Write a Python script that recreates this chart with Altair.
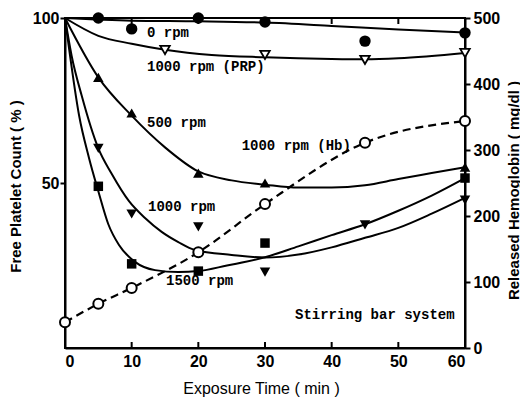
import altair as alt
import pandas as pd

# ---- measured markers (x: exposure time in min) ----
zero_t = [5, 10, 20, 30, 45, 60]
zero_v = [100, 96.7, 100, 98.8, 93, 95.5]
prp_t = [15, 30, 45, 60]
prp_v = [90.3, 88.8, 87.3, 89.4]
r500_t = [5, 10, 20, 30, 60]
r500_v = [82.0, 71.2, 53, 50, 54.8]
r1000_t = [5, 10, 20, 30, 45, 60]
r1000_v = [60.5, 40.6, 36.7, 23, 37.3, 44.8]
r1500_t = [5, 10, 20, 30, 60]
r1500_v = [49, 25.5, 23.3, 31.8, 51.5]
hb_t = [0, 5, 10, 20, 30, 45, 60]
hb_v = [39, 67, 91, 145, 218, 311, 344]

# ---- fitted curves ----
zero_ct = [0, 10, 20, 30, 40, 50, 60]
zero_cv = [100, 99.2, 99.0, 98.6, 97.6, 96.5, 95.6]
prp_ct = [0, 5, 10, 15, 22, 30, 40, 45, 50, 60]
prp_cv = [100, 94.6, 92.2, 90.4, 88.8, 88.1, 87.6, 87.5, 87.8, 89.4]
r500_ct = [0, 5, 10, 15, 20, 25, 30, 35, 40, 45, 50, 55, 60]
r500_cv = [100, 82.0, 70.4, 60.8, 53.5, 50.8, 49.5, 48.6, 48.6, 49.3, 51.2, 53.0, 54.8]
r1000_ct = [0, 1, 2.5, 5, 7, 9.6, 12, 14.5, 17, 19.5, 25, 30, 35, 40, 45, 50, 55, 60]
r1000_cv = [100, 88.5, 76.5, 60.5, 52.8, 44.5, 39.4, 35.2, 32.1, 29.7, 28.2, 27.4, 28.3, 30.5, 33.4, 36.4, 40.7, 45.5]
r1500_ct = [0, 0.6, 2.1, 3.6, 5, 6.5, 8.1, 10.5, 13.5, 17, 20, 24.3, 30, 35, 40, 45, 50, 55, 60]
r1500_cv = [100, 90.9, 70.6, 57.6, 47.5, 37.5, 31.2, 26.1, 23.6, 23, 23.3, 25.0, 27.5, 30.8, 34.2, 37.5, 41.6, 46.2, 51.5]

# ---- annotations ----
ann_text = ["0 rpm", "1000 rpm (PRP)", "500 rpm", "1000 rpm (Hb)", "1000 rpm", "1500 rpm", "Stirring bar system"]
ann_t = [12.3, 12.3, 12.3, 26.5, 12.45, 15.15, 34.5]
ann_v = [95.5, 85.2, 68.2, 61.2, 42.7, 20.3, 10]

frame_ticks = [10, 20, 30, 40, 50]
x_labels = [0, 10, 20, 30, 40, 50, 60]
left_labels = [50, 100]
right_labels = [0, 100, 200, 300, 400, 500]

W, H = 400, 330
LABEL_FONT = "Liberation Sans, Arial, sans-serif"
MONO = "Liberation Mono, DejaVu Sans Mono, monospace"


def df(t, v):
    return pd.DataFrame({"t": t, "v": v})


X = alt.X(
    "t:Q",
    scale=alt.Scale(domain=[0, 60], nice=False),
    axis=alt.Axis(
        values=x_labels, ticks=False, grid=False, domainColor="black", domainWidth=2,
        labelFont=LABEL_FONT, labelFontSize=16, labelFontWeight="bold", labelPadding=5,
        labelColor="black", title="Exposure Time ( min )", titleFont=LABEL_FONT,
        titleFontSize=16, titleFontWeight="normal", titleColor="black",
        titleX=196, titleY=40, titleBaseline="middle", titleAlign="center",
    ),
)
Y = alt.Y(
    "v:Q",
    scale=alt.Scale(domain=[0, 100], nice=False),
    axis=alt.Axis(
        values=left_labels, tickSize=5, tickWidth=2, tickColor="black", grid=False,
        domainColor="black", domainWidth=2, labelFont=LABEL_FONT, labelFontSize=16,
        labelFontWeight="bold", labelPadding=1, labelColor="black",
        title="Free Platelet Count ( % )", titleFont=LABEL_FONT, titleFontSize=15,
        titleFontWeight="bold", titleColor="black", titleAngle=270, titleX=-50,
        titleY=168, titleBaseline="middle", titleAlign="center",
    ),
)


def curve(t, v):
    return alt.Chart(df(t, v)).mark_line(
        color="black", strokeWidth=2, interpolate="monotone"
    ).encode(x=X, y=Y)


def pts(t, v, shape, filled, size):
    return alt.Chart(df(t, v)).mark_point(
        shape=shape, filled=filled, size=size, color="black",
        fill="black" if filled else "white", strokeWidth=1.8, opacity=1,
    ).encode(x=X, y=Y)


ann = alt.Chart(pd.DataFrame({"t": ann_t, "v": ann_v, "label": ann_text})).mark_text(
    font=MONO, fontSize=14, fontWeight="bold", align="left", baseline="middle", color="black"
).encode(x=X, y=Y, text="label:N")

ticks_df = pd.DataFrame({"t": frame_ticks})
bottom_ticks = alt.Chart(ticks_df).mark_rule(color="black", strokeWidth=2).encode(
    x=X, y=alt.value(H), y2=alt.value(H - 6)
)
top_ticks = alt.Chart(ticks_df).mark_rule(color="black", strokeWidth=2).encode(
    x=X, y=alt.value(0), y2=alt.value(6)
)

left = alt.layer(
    curve(zero_ct, zero_cv),
    curve(prp_ct, prp_cv),
    curve(r500_ct, r500_cv),
    curve(r1000_ct, r1000_cv),
    curve(r1500_ct, r1500_cv),
    pts(zero_t, zero_v, "circle", True, 130),
    pts(prp_t, prp_v, "triangle-down", False, 90),
    pts(r500_t, r500_v, "triangle-up", True, 110),
    pts(r1000_t, r1000_v, "triangle-down", True, 110),
    pts(r1500_t, r1500_v, "square", True, 90),
    ann,
    bottom_ticks,
    top_ticks,
)

YR = alt.Y(
    "v:Q",
    scale=alt.Scale(domain=[0, 500], nice=False),
    axis=alt.Axis(
        orient="right", values=right_labels, tickSize=5, tickWidth=2, tickColor="black",
        grid=False, domainColor="black", domainWidth=2, labelFont=LABEL_FONT,
        labelFontSize=16, labelFontWeight="bold", labelPadding=3, labelColor="black",
        title="Released Hemoglobin ( mg/dl )", titleFont=LABEL_FONT, titleFontSize=15,
        titleFontWeight="bold", titleColor="black", titleAngle=270, titleX=48,
        titleY=172, titleBaseline="middle", titleAlign="center",
    ),
)
hb_df = df(hb_t, hb_v)
hb_line = alt.Chart(hb_df).mark_line(
    color="black", strokeWidth=2.2, strokeDash=[8, 5], interpolate="monotone"
).encode(x=X, y=YR)
hb_pts = alt.Chart(hb_df).mark_point(
    shape="circle", filled=False, size=100, color="black", fill="white",
    strokeWidth=2, opacity=1,
).encode(x=X, y=YR)
right = alt.layer(hb_line, hb_pts)

chart = (
    alt.layer(left, right)
    .resolve_scale(y="independent")
    .properties(
        width=W, height=H,
        padding={"left": 57, "top": 10, "right": 55, "bottom": 49},
        autosize="none",
        background="white",
    )
    .configure_view(stroke="black", strokeWidth=2)
)

chart.save("out.html", embed_options={"renderer": "svg", "actions": False})
